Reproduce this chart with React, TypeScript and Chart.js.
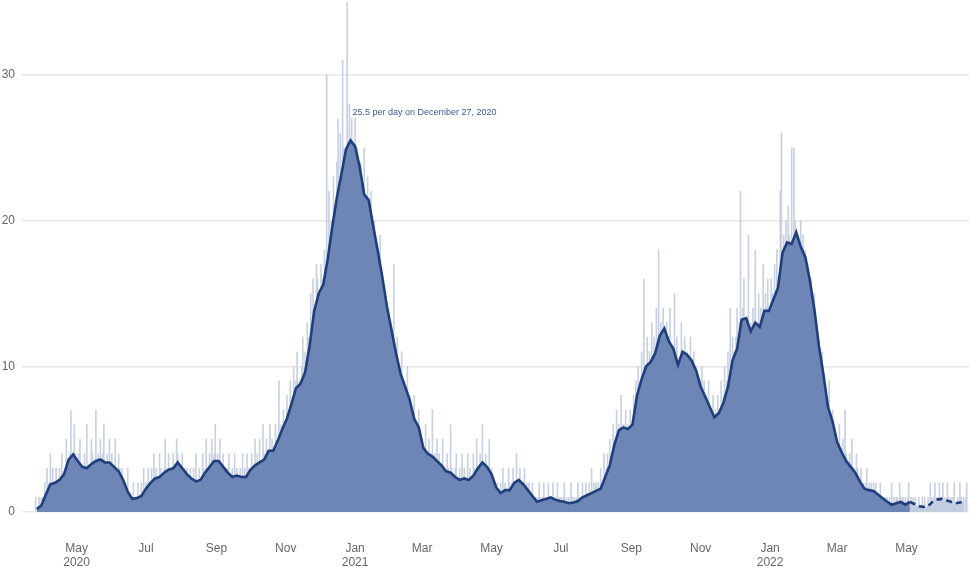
import React, { useEffect, useRef } from 'react';
import { Chart, registerables } from 'chart.js';

Chart.register(...registerables);

// ---- Data ----
const START_DATE = '2020-03-26';

// Daily counts, Mar 26 – Dec 31 2020
const deaths2020 = [
  1,0,0,1,0,1,
  1,0,2,1,3,2,1,4,2,3,1,2,3,2,1,3,2,4,2,1,3,5,3,2,4,7,3,2,6,4,
  3,2,4,5,2,3,1,4,3,6,2,3,2,5,4,3,2,7,3,4,2,5,3,4,6,2,3,4,2,5,3,
  4,3,2,5,3,2,4,3,1,3,2,1,2,1,3,0,1,0,1,2,1,0,1,2,1,0,2,1,3,1,
  2,1,3,2,1,3,2,4,2,3,1,2,4,3,2,1,3,5,2,3,4,2,3,1,4,3,2,5,4,3,2,
  3,4,2,3,2,3,1,2,3,2,1,3,2,4,1,2,3,2,1,4,3,2,5,3,2,4,3,5,2,4,6,
  3,4,2,5,3,2,4,3,2,1,3,4,2,1,3,2,4,2,3,1,2,3,2,4,1,3,2,4,3,2,
  3,4,2,3,5,2,4,3,5,2,3,6,4,2,5,3,4,6,3,5,4,2,6,3,5,9,4,6,5,7,4,
  6,8,5,7,9,6,8,10,7,9,11,8,9,7,10,12,8,11,9,13,12,10,15,13,16,12,14,17,16,13,
  14,17,16,13,18,15,30,16,22,17,20,19,23,21,18,24,27,20,26,22,31,25,22,23,35,24,28,23,27,25,24,
];
// Daily counts, 2021
const deaths2021 = [
  27,22,25,23,21,24,20,22,25,19,21,23,20,18,22,19,17,20,16,18,15,17,19,14,16,13,15,12,14,13,11,
  13,12,10,17,11,9,12,10,8,9,11,7,9,8,7,10,6,8,7,5,6,8,6,5,4,7,5,4,
  5,4,3,6,4,3,5,4,2,7,3,4,2,5,3,4,2,3,5,2,3,1,4,3,2,6,3,2,1,3,4,
  2,1,3,2,4,1,3,2,1,4,2,3,1,2,4,3,2,5,3,2,4,3,6,2,3,4,2,3,5,2,
  3,2,1,2,1,2,0,1,2,1,3,1,2,0,1,3,2,1,2,3,1,2,4,2,1,3,2,1,2,3,1,
  2,1,2,0,1,2,0,1,1,0,1,2,0,1,1,2,0,1,0,2,1,1,0,2,1,0,1,2,0,1,
  1,0,1,2,0,1,0,1,0,2,1,0,1,0,1,2,0,1,1,2,0,1,2,1,0,2,1,3,1,2,1,
  2,1,2,1,3,1,2,4,2,3,4,2,5,3,4,6,4,5,7,4,6,5,8,5,6,4,7,5,6,4,7,
  5,6,8,7,9,8,10,7,9,11,8,16,10,9,12,8,11,10,13,9,12,11,14,10,18,12,13,11,14,12,
  11,13,10,12,14,10,11,9,15,10,12,9,10,8,13,11,10,12,9,11,10,8,12,10,9,11,8,10,9,7,9,
  8,10,7,9,6,8,7,9,6,7,5,8,6,7,5,8,7,6,9,7,8,10,7,9,11,8,14,10,12,11,
  10,12,14,11,13,22,12,14,16,11,13,12,19,11,13,12,14,11,18,13,12,15,11,14,13,17,12,15,14,16,13,
];
// Daily counts, Jan 1 – Jun 23 2022
const deaths2022 = [
  14,16,15,13,17,14,18,16,15,22,26,17,19,18,20,16,21,19,17,25,18,25,20,17,19,18,16,20,17,19,16,
  18,16,17,15,14,16,13,12,15,11,10,12,9,10,8,11,9,7,8,6,7,9,6,5,7,6,4,5,
  5,4,6,3,4,5,3,7,4,3,2,4,3,5,2,3,2,4,3,1,2,3,1,2,1,2,3,1,2,1,2,
  1,2,1,2,1,0,1,2,1,0,1,1,0,1,0,1,0,2,0,1,0,1,1,0,2,1,0,1,0,1,
  0,1,2,0,1,0,1,0,1,0,0,1,0,0,1,0,1,0,0,1,0,2,1,0,1,2,0,1,1,2,0,
  1,2,0,1,0,2,1,0,1,0,1,2,0,0,1,0,2,1,0,1,0,1,2,
];

// 7-day average, sampled every 4 days from AVG_FIRST_DATE
const AVG_FIRST_DATE = '2020-03-27';
const AVG_STEP_DAYS = 4;
const avgValues = [
  0.2,0.45,1.2,1.9,2.0,2.2,2.6,3.6,3.95,3.5,
  3.1,3.0,3.3,3.5,3.6,3.4,3.4,3.1,2.8,2.2,
  1.4,0.9,0.95,1.1,1.6,2.0,2.3,2.4,2.7,2.9,
  3.0,3.4,3.0,2.6,2.3,2.1,2.2,2.7,3.1,3.5,
  3.5,3.1,2.7,2.4,2.5,2.4,2.4,2.9,3.2,3.4,
  3.6,4.2,4.2,4.9,5.7,6.4,7.4,8.5,8.8,9.6,
  11.4,13.8,15.0,15.6,17.4,19.6,21.6,23.2,24.9,25.5,
  25.1,23.7,21.8,21.4,19.6,17.9,16.1,14.1,12.5,10.9,
  9.5,8.6,7.7,6.4,5.8,4.4,4.0,3.8,3.5,3.2,
  2.8,2.7,2.4,2.2,2.3,2.2,2.5,3.0,3.4,3.1,
  2.6,1.7,1.3,1.5,1.5,2.0,2.2,1.9,1.5,1.1,
  0.7,0.8,0.9,1.0,0.85,0.75,0.7,0.6,0.65,0.75,
  1.0,1.15,1.3,1.45,1.6,2.4,3.2,4.6,5.6,5.8,
  5.7,6.0,8.0,9.1,10.0,10.3,10.9,12.1,12.6,11.7,
  11.2,10.1,11.0,10.8,10.4,9.7,8.6,7.9,7.2,6.5,
  6.8,7.5,8.6,10.4,11.2,13.2,13.3,12.4,13.0,12.7,
  13.8,13.8,14.6,15.4,17.8,18.5,18.4,19.2,18.2,17.5,
  15.9,13.9,11.4,9.4,7.2,6.2,4.8,4.1,3.5,3.1,
  2.7,2.1,1.6,1.5,1.45,1.2,0.95,0.7,0.5,0.6,
  0.7,0.5,0.7,0.55,0.4,0.35,0.4,0.7,0.85,0.9,
  0.8,0.7,0.6,0.65,0.7,
];

const PROVISIONAL_FROM = '2022-05-04';

const X_TICK_DATES = [
  '2020-05-01','2020-07-01','2020-09-01','2020-11-01',
  '2021-01-01','2021-03-01','2021-05-01','2021-07-01','2021-09-01','2021-11-01',
  '2022-01-01','2022-03-01','2022-05-01',
];
const X_TICK_LABELS: (string | string[])[] = [
  ['May','2020'],'Jul','Sep','Nov',
  ['Jan','2021'],'Mar','May','Jul','Sep','Nov',
  ['Jan','2022'],'Mar','May',
];
const Y_TICKS = [0, 10, 20, 30];
const Y_MAX = 35;
const X_MIN_DATE = '2020-03-14';
const X_MAX_DATE = '2022-06-25';

const PEAK_DATE = '2020-12-27';
const PEAK_VALUE = 25.5;
const PEAK_LABEL = '25.5 per day on December 27, 2020';

// ---- Helpers ----
const DAY_MS = 86400000;
const dayIndex = (iso: string) => (Date.parse(iso) - Date.parse(START_DATE)) / DAY_MS;

const FONT = "'Liberation Sans', Arial, Helvetica, sans-serif";
const BAR_COLOR = '#c7d1e2';
const AREA_COLOR = '#6e86b5';
const AREA_PROV_COLOR = '#c3cde0';
const LINE_COLOR = '#1f3e7c';

const peakLabelPlugin = {
  id: 'peakLabel',
  afterDatasetsDraw(chart: any) {
    const { ctx, scales } = chart;
    const x = scales.x.getPixelForValue(dayIndex(PEAK_DATE)) + 3;
    const y = scales.y.getPixelForValue(PEAK_VALUE) - 28;
    ctx.save();
    ctx.font = `9px ${FONT}`;
    ctx.fillStyle = '#3a5a9c';
    ctx.textAlign = 'left';
    ctx.textBaseline = 'middle';
    ctx.fillText(PEAK_LABEL, x, y);
    ctx.restore();
  },
};

export default function App() {
  const ref = useRef<HTMLCanvasElement | null>(null);

  useEffect(() => {
    document.body.style.margin = '0';
    const daily = [...deaths2020, ...deaths2021, ...deaths2022];
    const avgFirst = dayIndex(AVG_FIRST_DATE);
    const prov = dayIndex(PROVISIONAL_FROM);
    const barData = daily.map((v, i) => ({ x: i, y: v }));
    const avgData = avgValues.map((v, i) => ({ x: avgFirst + i * AVG_STEP_DAYS, y: v }));

    const chart = new Chart(ref.current as HTMLCanvasElement, {
      type: 'bar',
      data: {
        datasets: [
          {
            type: 'line',
            data: avgData as any,
            borderColor: LINE_COLOR,
            borderWidth: 2.6,
            backgroundColor: AREA_COLOR,
            fill: 'origin',
            pointRadius: 0,
            tension: 0,
            order: 0,
            segment: {
              borderDash: (c: any) => (c.p0.parsed.x >= prov - 2 ? [6, 4] : undefined),
              backgroundColor: (c: any) => (c.p0.parsed.x >= prov - 2 ? AREA_PROV_COLOR : undefined),
            },
          } as any,
          {
            type: 'bar',
            data: barData as any,
            backgroundColor: BAR_COLOR,
            barThickness: 1,
            order: 1,
          } as any,
        ],
      },
      options: {
        responsive: false,
        animation: false,
        devicePixelRatio: 1,
        layout: { padding: { top: 2, left: 0, right: 0, bottom: 0 } },
        plugins: { legend: { display: false }, tooltip: { enabled: false } },
        scales: {
          x: {
            type: 'linear',
            offset: false,
            min: dayIndex(X_MIN_DATE),
            max: dayIndex(X_MAX_DATE),
            grid: { display: false, drawTicks: false, offset: false },
            border: { display: false },
            afterBuildTicks: (s: any) => {
              s.ticks = X_TICK_DATES.map((d) => ({ value: dayIndex(d) }));
            },
            afterFit: (s: any) => {
              s.height = 56;
              s.paddingLeft = 0;
              s.paddingRight = 0;
            },
            ticks: {
              autoSkip: false,
              maxRotation: 0,
              padding: 29,
              color: '#666',
              font: { size: 12, family: FONT },
              callback: (_v: any, i: number) => X_TICK_LABELS[i],
            },
          },
          y: {
            min: 0,
            max: Y_MAX,
            grid: { color: '#e8e8e8', lineWidth: 1.5, drawTicks: false },
            border: { display: false },
            afterBuildTicks: (s: any) => {
              s.ticks = Y_TICKS.map((v) => ({ value: v }));
            },
            afterFit: (s: any) => {
              s.width = 22;
              s.paddingTop = 0;
              s.paddingBottom = 0;
            },
            ticks: {
              padding: 7,
              color: '#666',
              font: { size: 12, family: FONT },
            },
          },
        },
      } as any,
      plugins: [peakLabelPlugin],
    });
    return () => chart.destroy();
  }, []);

  return (
    <div style={{ width: 969, height: 568 }}>
      <canvas ref={ref} width={969} height={568} />
    </div>
  );
}
